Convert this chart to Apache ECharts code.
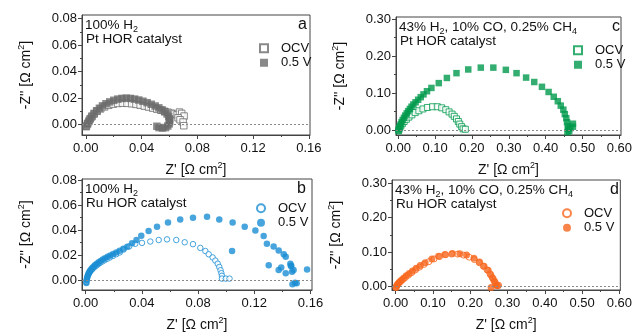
<!DOCTYPE html>
<html>
<head>
<meta charset="utf-8">
<script src="https://cdn.jsdelivr.net/npm/echarts@6/dist/echarts.min.js"></script>
<style>
  html, body { margin: 0; padding: 0; background: #fff; }
  #chart { width: 635px; height: 335px; }
</style>
</head>
<body>
<div id="chart"></div>
<script>
// tick values
const xTicksH2 = [0, 0.04, 0.08, 0.12, 0.16];
const xMinorH2 = [0.02, 0.06, 0.10, 0.14];
const yTicksH2 = [0, 0.02, 0.04, 0.06, 0.08];
const yMinorH2 = [0.01, 0.03, 0.05, 0.07];
const xTicksCO = [0, 0.1, 0.2, 0.3, 0.4, 0.5, 0.6];
const xMinorCO = [0.05, 0.15, 0.25, 0.35, 0.45, 0.55];
const yTicksCO = [0, 0.1, 0.2, 0.3];
const yMinorCO = [0.05, 0.15, 0.25];

// a: 100% H2, Pt
const ptH2Ocv = [[0.0005,-0.001],[0.0015,0.0012],[0.0027,0.0035],[0.0042,0.0058],[0.006,0.008],[0.0082,0.0101],[0.0107,0.0119],[0.0135,0.0134],[0.0165,0.0146],[0.0197,0.0155],[0.023,0.016],[0.0263,0.0162],[0.0296,0.0161],[0.0329,0.0158],[0.036,0.0153],[0.039,0.0147],[0.042,0.014],[0.045,0.0133],[0.048,0.0125],[0.051,0.0117],[0.0538,0.0109],[0.0565,0.0101],[0.059,0.0094],[0.0613,0.0087],[0.0635,0.008],[0.0655,0.0074],[0.0672,0.0095],[0.0688,0.0085],[0.0705,0.0065],[0.0662,0.0052],[0.0676,0.0037],[0.0698,0.002],[0.0703,-0.0008]];
const ptH2Load = [[0.0002,-0.0015],[0.0012,0.0005],[0.0022,0.0025],[0.0032,0.0045],[0.0045,0.0065],[0.006,0.0085],[0.0078,0.0105],[0.0098,0.0124],[0.012,0.0142],[0.0145,0.0158],[0.0172,0.0172],[0.0201,0.0184],[0.023,0.0193],[0.026,0.0198],[0.029,0.02],[0.032,0.0198],[0.035,0.0193],[0.038,0.0186],[0.041,0.0177],[0.044,0.0166],[0.047,0.0154],[0.0498,0.0141],[0.0524,0.0127],[0.0547,0.0112],[0.0567,0.0097],[0.0583,0.0081],[0.0595,0.0063],[0.0601,0.0044],[0.0602,0.0024],[0.0598,0.0006],[0.0588,-0.001],[0.0572,-0.0022],[0.055,-0.0025],[0.0525,-0.0022],[0.051,-0.0012]];

// b: 100% H2, Ru
const ruH2Ocv = [[0.0005,-0.0015],[0.0008,0.0008],[0.0012,0.0025],[0.0018,0.0042],[0.0025,0.0057],[0.0033,0.007],[0.0042,0.0082],[0.0052,0.0094],[0.0063,0.0105],[0.0075,0.0116],[0.0088,0.0127],[0.0102,0.0138],[0.0118,0.0149],[0.0135,0.016],[0.0153,0.0171],[0.0173,0.0182],[0.0195,0.0195],[0.0218,0.0208],[0.0243,0.0222],[0.027,0.0245],[0.031,0.027],[0.0353,0.0291],[0.0401,0.0298],[0.046,0.0309],[0.052,0.0321],[0.0579,0.0326],[0.0645,0.0321],[0.0705,0.0303],[0.0764,0.0288],[0.0816,0.0258],[0.0852,0.0233],[0.0876,0.0207],[0.0904,0.0182],[0.0923,0.0157],[0.094,0.0132],[0.0951,0.0106],[0.096,0.008],[0.0966,0.0056],[0.097,0.0035],[0.097,0.0013],[0.0998,0.0013],[0.1024,0.0013]];
const ruH2Load = [[0.0005,-0.0022],[0.0008,0.0005],[0.0012,0.0025],[0.0017,0.0043],[0.0023,0.0059],[0.003,0.0073],[0.0038,0.0086],[0.0047,0.0098],[0.0057,0.011],[0.0068,0.0121],[0.008,0.0132],[0.0093,0.0143],[0.0107,0.0154],[0.0122,0.0165],[0.0138,0.0176],[0.0156,0.0187],[0.0175,0.0198],[0.0196,0.021],[0.0218,0.0222],[0.0242,0.0236],[0.0268,0.0251],[0.0296,0.0268],[0.033,0.0295],[0.0362,0.0321],[0.0396,0.0355],[0.0448,0.0392],[0.0508,0.0427],[0.0586,0.046],[0.0673,0.0485],[0.0764,0.0498],[0.0864,0.0506],[0.0951,0.0485],[0.1046,0.046],[0.1132,0.0427],[0.1208,0.0397],[0.1267,0.0354],[0.129,0.0291],[0.1338,0.027],[0.1374,0.0238],[0.141,0.0207],[0.1424,0.0188],[0.1457,0.0132],[0.1464,0.0113],[0.1469,0.0068],[0.149,-0.002],[0.1502,-0.0025],[0.1472,-0.0032],[0.1576,0.0086],[0.1042,0.0233],[0.1303,0.0119],[0.1374,0.0081],[0.1392,0.0101],[0.1424,0.0055],[0.146,0.0116],[0.148,0.0081]];

// c: 43% H2 + CO + CH4, Pt
const ptCoOcv = [[0.0015,0.0],[0.004,0.006],[0.007,0.011],[0.011,0.017],[0.016,0.023],[0.022,0.029],[0.029,0.035],[0.037,0.041],[0.046,0.047],[0.056,0.052],[0.067,0.057],[0.079,0.061],[0.093,0.063],[0.106,0.063],[0.118,0.06],[0.129,0.055],[0.138,0.049],[0.146,0.043],[0.152,0.037],[0.158,0.03],[0.163,0.023],[0.167,0.016],[0.172,0.009],[0.176,0.003],[0.182,0.002]];
const ptCoLoad = [[0.001,-0.003],[0.002,0.003],[0.004,0.009],[0.0065,0.015],[0.009,0.021],[0.012,0.027],[0.0155,0.033],[0.019,0.039],[0.023,0.045],[0.027,0.051],[0.0315,0.057],[0.036,0.063],[0.041,0.069],[0.047,0.075],[0.054,0.082],[0.061,0.089],[0.0685,0.0965],[0.078,0.105],[0.09,0.114],[0.11,0.127],[0.132,0.141],[0.158,0.154],[0.19,0.164],[0.224,0.169],[0.258,0.169],[0.292,0.163],[0.321,0.154],[0.347,0.142],[0.369,0.13],[0.39,0.117],[0.408,0.103],[0.422,0.09],[0.433,0.078],[0.441,0.066],[0.448,0.055],[0.452,0.043],[0.456,0.032],[0.458,0.021],[0.46,0.011],[0.461,0.003],[0.459,-0.006],[0.464,-0.003],[0.467,0.005],[0.474,0.009],[0.474,0.017]];

// d: 43% H2 + CO + CH4, Ru
const ruCoOcv = [[0.001,-0.002],[0.004,0.004],[0.008,0.009],[0.013,0.014],[0.019,0.02],[0.026,0.026],[0.034,0.033],[0.043,0.04],[0.053,0.048],[0.064,0.056],[0.076,0.064],[0.089,0.072],[0.103,0.08],[0.118,0.087],[0.134,0.092],[0.15,0.094],[0.166,0.094],[0.182,0.091],[0.197,0.085],[0.211,0.078],[0.224,0.069],[0.235,0.059],[0.245,0.048],[0.253,0.037],[0.259,0.026],[0.264,0.016],[0.268,0.007],[0.272,0.003],[0.276,0.004]];
const ruCoLoad = [[0.0008,-0.003],[0.003,0.003],[0.006,0.008],[0.01,0.013],[0.015,0.018],[0.021,0.024],[0.028,0.031],[0.036,0.038],[0.045,0.045],[0.055,0.053],[0.066,0.061],[0.079,0.069],[0.097,0.08],[0.115,0.088],[0.132,0.093],[0.152,0.096],[0.172,0.095],[0.19,0.091],[0.21,0.082],[0.225,0.071],[0.237,0.059],[0.248,0.047],[0.255,0.034],[0.261,0.023],[0.266,0.014],[0.27,0.004],[0.256,-0.003],[0.274,0.002]];

const FONT = '"Liberation Sans", Arial, Helvetica, sans-serif';
const AXIS_COLOR = '#444';
const TEXT_COLOR = '#111';

const panels = [
  { id: 'a', grid: { left: 82, top: 15, width: 228, height: 120 }, x: [-0.0027, 0.1608], y: [-0.0078, 0.0828],
    xt: xTicksH2, xm: xMinorH2, yt: yTicksH2, ym: yMinorH2, color: '#6b6b6b', symbol: 'rect',
    ocv: ptH2Ocv, load: ptH2Load, size: [6.5, 7.5], gas: '100% H{s|2}', cat: 'Pt HOR catalyst',
    legend: { left: 254, top: 36 }, letterX: 303 },
  { id: 'c', grid: { left: 396, top: 17, width: 229, height: 118 }, x: [-0.0061, 0.6045], y: [-0.0136, 0.3062],
    xt: xTicksCO, xm: xMinorCO, yt: yTicksCO, ym: yMinorCO, color: '#009a4c', symbol: 'rect',
    ocv: ptCoOcv, load: ptCoLoad, size: [6, 6.5], gas: '43% H{s|2}, 10% CO, 0.25% CH{s|4}', cat: 'Pt HOR catalyst',
    legend: { left: 568, top: 38 }, letterX: 617 },
  { id: 'b', grid: { left: 82, top: 179, width: 230, height: 117 }, x: [-0.0026, 0.1611], y: [-0.0078, 0.0808],
    xt: xTicksH2, xm: xMinorH2, yt: yTicksH2, ym: yMinorH2, color: '#1a8dd3', symbol: 'circle',
    ocv: ruH2Ocv, load: ruH2Load, size: [5.5, 6.5], gas: '100% H{s|2}', cat: 'Ru HOR catalyst',
    legend: { left: 251, top: 196 }, letterX: 302 },
  { id: 'd', grid: { left: 392, top: 180, width: 230, height: 117 }, x: [-0.0099, 0.6026], y: [-0.0101, 0.3087],
    xt: xTicksCO, xm: xMinorCO, yt: yTicksCO, ym: yMinorCO, color: '#f7651c', symbol: 'circle',
    ocv: ruCoOcv, load: ruCoLoad, size: [6, 7], gas: '43% H{s|2}, 10% CO, 0.25% CH{s|4}', cat: 'Ru HOR catalyst',
    legend: { left: 557, top: 201 }, letterX: 615 }
];

const richName = {
  sup: { fontSize: 9, fontFamily: FONT, color: TEXT_COLOR, verticalAlign: 'top' }
};

const option = {
  animation: false,
  backgroundColor: '#fff',
  grid: [], xAxis: [], yAxis: [], series: [], legend: [], graphic: []
};

panels.forEach(function (p, i) {
  option.grid.push(Object.assign({ show: true, borderColor: AXIS_COLOR, borderWidth: 1, containLabel: false }, p.grid));

  const tickLabel = function (vals, margin) {
    return { customValues: vals, fontSize: 13, color: TEXT_COLOR, fontFamily: FONT, margin: margin,
      formatter: function (v) { return v.toFixed(2); } };
  };

  // main x axis
  option.xAxis.push({
    gridIndex: i, type: 'value', min: p.x[0], max: p.x[1], position: 'bottom',
    axisLine: { show: true, onZero: false, lineStyle: { color: AXIS_COLOR } },
    axisTick: { show: true, length: 4, customValues: p.xt, lineStyle: { color: AXIS_COLOR } },
    axisLabel: tickLabel(p.xt, 7),
    splitLine: { show: false },
    name: "Z' [Ω cm{sup|2}]", nameLocation: 'middle', nameGap: 26,
    nameTextStyle: { fontSize: 14, color: TEXT_COLOR, fontFamily: FONT, lineHeight: 18, rich: richName }
  });
  // minor x ticks
  option.xAxis.push({
    gridIndex: i, type: 'value', min: p.x[0], max: p.x[1], position: 'bottom',
    axisLine: { show: false, onZero: false },
    axisTick: { show: true, length: 2, customValues: p.xm, lineStyle: { color: AXIS_COLOR } },
    axisLabel: { show: false, customValues: p.xm },
    splitLine: { show: false }
  });
  // main y axis
  option.yAxis.push({
    gridIndex: i, type: 'value', min: p.y[0], max: p.y[1], position: 'left',
    axisLine: { show: true, onZero: false, lineStyle: { color: AXIS_COLOR } },
    axisTick: { show: true, length: 4, customValues: p.yt, lineStyle: { color: AXIS_COLOR } },
    axisLabel: tickLabel(p.yt, 5),
    splitLine: { show: false },
    name: "-Z'' [Ω cm{sup|2}]", nameLocation: 'middle', nameGap: 47,
    nameTextStyle: { fontSize: 14, color: TEXT_COLOR, fontFamily: FONT, lineHeight: 18, rich: richName }
  });
  // minor y ticks
  option.yAxis.push({
    gridIndex: i, type: 'value', min: p.y[0], max: p.y[1], position: 'left',
    axisLine: { show: false, onZero: false },
    axisTick: { show: true, length: 2, customValues: p.ym, lineStyle: { color: AXIS_COLOR } },
    axisLabel: { show: false, customValues: p.ym },
    splitLine: { show: false }
  });

  const ocvName = 'OCV#' + p.id;
  const loadName = '0.5 V#' + p.id;

  option.series.push({
    name: ocvName, type: 'scatter', xAxisIndex: 2 * i, yAxisIndex: 2 * i,
    symbol: p.symbol, symbolSize: p.size[0], data: p.ocv,
    itemStyle: { color: '#fff', borderColor: p.color, borderWidth: 1 },
    markLine: {
      silent: true, symbol: 'none', animation: false,
      data: [{ yAxis: 0 }],
      label: { show: false },
      lineStyle: { color: '#888', width: 1, type: [2, 2] }
    },
    z: 2
  });
  option.series.push({
    name: loadName, type: 'scatter', xAxisIndex: 2 * i, yAxisIndex: 2 * i,
    symbol: p.symbol, symbolSize: p.size[1], data: p.load,
    itemStyle: { color: p.color },
    z: 3
  });

  option.legend.push({
    left: p.legend.left, top: p.legend.top, orient: 'vertical',
    data: [ocvName, loadName], itemWidth: 8, itemHeight: 8, itemGap: 0,
    selectedMode: false,
    textStyle: { fontSize: 13, color: TEXT_COLOR, fontFamily: FONT, lineHeight: 14.5, padding: [0, 0, 0, 8] },
    formatter: function (n) { return n.split('#')[0]; }
  });

  const top = p.grid.top;
  option.graphic.push({
    type: 'text', left: p.grid.left + 3, top: top + 2,
    style: {
      text: p.gas, fontSize: 13.5, fontFamily: FONT, fill: TEXT_COLOR, lineHeight: 17,
      rich: { s: { fontSize: 9, fontFamily: FONT, fill: TEXT_COLOR, verticalAlign: 'bottom' } }
    }
  });
  option.graphic.push({
    type: 'text', left: p.grid.left + 4, top: top + 17,
    style: { text: p.cat, fontSize: 13.5, fontFamily: FONT, fill: TEXT_COLOR }
  });
  option.graphic.push({
    type: 'text', left: p.letterX - 5, top: top + 2,
    style: { text: p.id, fontSize: 16, fontFamily: FONT, fill: TEXT_COLOR }
  });
});

const myChart = echarts.init(document.getElementById('chart'), null, { renderer: 'canvas' });
myChart.setOption(option);
window.addEventListener('resize', function () {
  myChart.resize();
});
</script>
</body>
</html>
